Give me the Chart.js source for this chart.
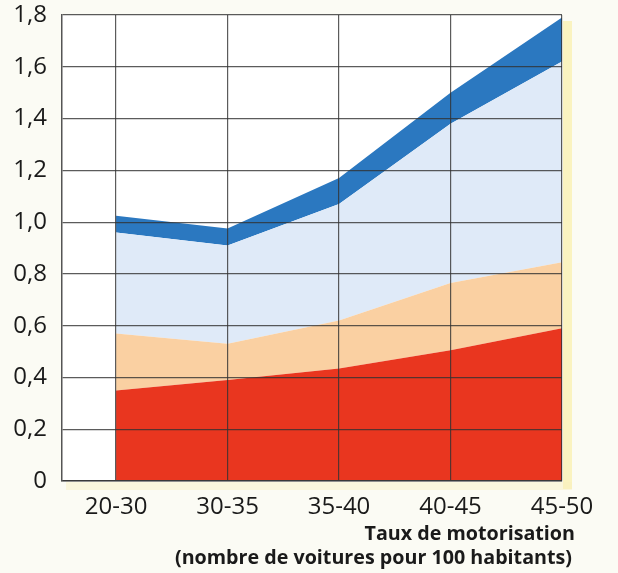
<!DOCTYPE html>
<html>
<head>
<meta charset="utf-8">
<script src="https://cdn.jsdelivr.net/npm/chart.js@4/dist/chart.umd.min.js"></script>
<style>
  html, body { margin: 0; padding: 0; background: #fbfbf4; }
  #wrap { width: 618px; height: 573px; position: relative; }
</style>
</head>
<body>
<div id="wrap"><canvas id="c" width="618" height="573"></canvas></div>
<script>
// Categories (x axis)
const categories = ['20-30', '30-35', '35-40', '40-45', '45-50'];
// Upper boundary of each stacked band
const rougeTop = [0.35, 0.39, 0.435, 0.505, 0.59];
const orangeTop = [0.57, 0.53, 0.62, 0.765, 0.845];
const bleuClairTop = [0.96, 0.91, 1.07, 1.38, 1.62];
const bleuFonceTop = [1.025, 0.975, 1.17, 1.50, 1.79];
// Tick labels
const yTickLabels = ['0', '0,2', '0,4', '0,6', '0,8', '1,0', '1,2', '1,4', '1,6', '1,8'];
const xTitleLines = ['Taux de motorisation', '(nombre de voitures pour 100 habitants)'];

const toPts = arr => arr.map((v, i) => ({ x: i, y: v }));

const bgPlugin = {
  id: 'bg',
  beforeDraw(chart) {
    const { ctx, chartArea: a } = chart;
    ctx.save();
    ctx.fillStyle = '#fbfbf4';
    ctx.fillRect(0, 0, chart.width, chart.height);
    // soft yellow shadow right and below the plot
    ctx.fillStyle = 'rgba(250, 236, 150, 0.55)';
    ctx.fillRect(a.right + 1, a.top + 6, 9, a.bottom - a.top + 2);
    ctx.fillStyle = 'rgba(248, 240, 190, 0.45)';
    ctx.fillRect(a.left + 4, a.bottom + 1, a.right - a.left + 6, 8);
    ctx.fillStyle = '#ffffff';
    ctx.fillRect(a.left, a.top, a.right - a.left, a.bottom - a.top);
    ctx.restore();
  }
};

const titlePlugin = {
  id: 'xtitle',
  afterDraw(chart) {
    const { ctx, chartArea: a } = chart;
    ctx.save();
    ctx.fillStyle = '#1a1a1a';
    ctx.font = 'bold 19.7px "Open Sans", "Noto Sans", sans-serif';
    ctx.textAlign = 'right';
    ctx.textBaseline = 'middle';
    ctx.fillText(xTitleLines[0], a.right + 13, a.bottom + 53);
    ctx.fillText(xTitleLines[1], a.right + 10, a.bottom + 77);
    ctx.restore();
  }
};

const common = { borderWidth: 0, pointRadius: 0, tension: 0 };

new Chart(document.getElementById('c'), {
  type: 'line',
  data: {
    datasets: [
      { ...common, data: toPts(rougeTop), backgroundColor: '#e9361f', fill: 'origin' },
      { ...common, data: toPts(orangeTop), backgroundColor: '#fad0a2', fill: '-1' },
      { ...common, data: toPts(bleuClairTop), backgroundColor: '#dfeaf8', fill: '-1' },
      { ...common, data: toPts(bleuFonceTop), backgroundColor: '#2b78c0', fill: '-1' }
    ]
  },
  options: {
    responsive: false,
    animation: false,
    events: [],
    layout: { padding: { top: 15, right: 56, bottom: 0, left: 0 } },
    plugins: { legend: { display: false }, tooltip: { enabled: false } },
    scales: {
      x: {
        type: 'linear',
        min: -0.485,
        max: 4,
        afterBuildTicks(axis) { axis.ticks = categories.map((c, i) => ({ value: i })); },
        afterFit(scale) { scale.height = 92; scale.paddingLeft = 0; scale.paddingRight = 0; },
        grid: { color: 'rgba(50,50,50,0.8)', lineWidth: 1.2, drawTicks: false, z: 1 },
        border: { color: '#555', width: 1.5, z: 1 },
        ticks: {
          padding: 12,
          autoSkip: false,
          maxRotation: 0,
          color: '#1a1a1a',
          font: { family: '"Open Sans", "Noto Sans", sans-serif', size: 24 },
          callback: (v) => categories[Math.round(v)]
        }
      },
      y: {
        min: 0,
        max: 1.8,
        afterBuildTicks(axis) { axis.ticks = yTickLabels.map((t, i) => ({ value: i * 0.2 })); },
        afterFit(scale) { scale.width = 62; scale.paddingTop = 0; scale.paddingBottom = 0; },
        grid: { color: 'rgba(50,50,50,0.8)', lineWidth: 1.2, drawTicks: false, z: 1 },
        border: { color: '#555', width: 1.5, z: 1 },
        ticks: {
          padding: 15,
          color: '#1a1a1a',
          font: { family: '"Open Sans", "Noto Sans", sans-serif', size: 24 },
          callback: (v) => yTickLabels[Math.round(v / 0.2)]
        }
      }
    }
  },
  plugins: [bgPlugin, titlePlugin]
});
</script>
</body>
</html>
